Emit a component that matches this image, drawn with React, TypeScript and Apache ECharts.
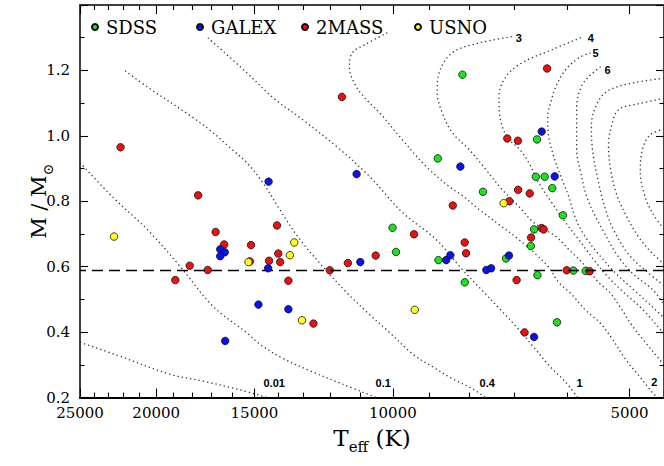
import React, { useEffect, useRef } from "react";
import * as echarts from "echarts";

// ---------- data ----------
const teffMin = 4520;
const teffMax = 25000;
const massMin = 0.2;
const massMax = 1.4;
const majorTeff = [25000, 20000, 15000, 10000, 5000];
const minorTeff = [24000, 23000, 22000, 21000, 19000, 18000, 17000, 16000, 14000, 13000, 12000, 11000, 9000, 8000, 7000, 6000];
const canonicalMass = 0.594;

const surveyNames = ["SDSS", "GALEX", "2MASS", "USNO"];

// [Teff (K), M/Msun]
const sdss: [number, number][] = [
  [8768, 0.931], [10010, 0.719], [9910, 0.645], [8750, 0.62], [8100, 0.552],
  [8157, 1.187], [6556, 0.989], [6580, 0.875], [6410, 0.875], [6270, 0.84],
  [7680, 0.829], [6077, 0.757], [6613, 0.714], [6677, 0.663], [7180, 0.625],
  [6548, 0.574], [5894, 0.588], [5686, 0.587], [6184, 0.43],
];
const galex: [number, number][] = [
  [16580, 0.653], [16360, 0.644], [16580, 0.632], [14410, 0.595], [14390, 0.86],
  [14825, 0.484], [16340, 0.373], [11120, 0.883], [8207, 0.906], [13580, 0.47],
  [11000, 0.614], [8555, 0.62], [8450, 0.635], [6467, 1.013], [6225, 0.876],
  [7118, 0.634], [7605, 0.59], [7500, 0.595], [6613, 0.385],
];
const twomass: [number, number][] = [
  [22200, 0.965], [17690, 0.818], [16805, 0.706], [16390, 0.668], [18130, 0.603],
  [17200, 0.59], [18910, 0.559], [15150, 0.666], [15200, 0.616], [14370, 0.618],
  [14040, 0.726], [11610, 1.119], [8390, 0.787], [13990, 0.64], [13910, 0.614],
  [13580, 0.557], [12620, 0.426], [12030, 0.589], [11410, 0.611], [10515, 0.634],
  [9400, 0.699], [8102, 0.674], [8070, 0.641], [6366, 1.206], [7153, 0.992],
  [6934, 0.985], [6930, 0.835], [6698, 0.824], [7110, 0.8], [6470, 0.718],
  [6430, 0.714], [6671, 0.689], [6960, 0.559], [6011, 0.589], [5620, 0.586],
  [6800, 0.399],
];
const usno: [number, number][] = [
  [22630, 0.692], [15265, 0.614], [13350, 0.674], [13520, 0.635], [13050, 0.436],
  [9378, 0.468], [7230, 0.794],
];

// cooling-age isochrones (Gyr)
const iso001: [number, number][] = [
  [25000, 0.369], [22410, 0.329], [19200, 0.271], [17440, 0.25], [15800, 0.226], [14450, 0.2],
];
const iso01: [number, number][] = [
  [25000, 0.918], [22680, 0.811], [20540, 0.714], [18650, 0.601], [16940, 0.479],
  [15340, 0.398], [14765, 0.363], [13810, 0.32], [12760, 0.282], [11590, 0.241], [10500, 0.2],
];
const iso04: [number, number][] = [
  [21900, 1.199], [20540, 1.15], [17960, 1.056], [16940, 1.01], [16120, 0.964],
  [15340, 0.918], [14640, 0.857], [13930, 0.775], [13130, 0.683], [12220, 0.595],
  [11460, 0.522], [10710, 0.454], [10110, 0.4], [9425, 0.332], [8890, 0.293],
  [8380, 0.256], [7910, 0.226], [7630, 0.2],
];
const iso1: [number, number][] = [
  [17190, 1.3], [15340, 1.193], [14210, 1.117], [13020, 1.049], [11790, 0.967],
  [10710, 0.876], [9727, 0.766], [8810, 0.683], [8165, 0.592], [7725, 0.531],
  [7307, 0.47], [6975, 0.418], [6637, 0.357], [6318, 0.296], [6030, 0.247], [5820, 0.2],
];
const iso2: [number, number][] = [
  [10165, 1.315], [10870, 1.278], [11260, 1.254], [11360, 1.211], [11130, 1.15],
  [10710, 1.101], [10400, 1.071], [9727, 0.988], [9070, 0.906], [8480, 0.845],
  [8165, 0.818], [7770, 0.775], [7330, 0.729], [6915, 0.683], [6580, 0.638],
  [6335, 0.598], [6153, 0.552], [5923, 0.515], [5687, 0.467], [5460, 0.43],
  [5256, 0.378], [5060, 0.317], [4858, 0.265], [4678, 0.216], [4610, 0.2],
];
const iso3: [number, number][] = [
  [7058, 1.303], [7770, 1.284], [8405, 1.254], [8732, 1.193], [8783, 1.132],
  [8656, 1.071], [8405, 1.01], [8000, 0.958], [7615, 0.897], [7265, 0.836],
  [6915, 0.784], [6620, 0.735], [6205, 0.692], [5975, 0.653], [5687, 0.601],
  [5475, 0.552], [5300, 0.522], [5148, 0.479], [4957, 0.418], [4775, 0.369],
  [4583, 0.317], [4488, 0.293],
];
const iso4: [number, number][] = [
  [5768, 1.3], [6280, 1.263], [6855, 1.223], [7180, 1.181], [7330, 1.12],
  [7307, 1.058], [7160, 0.997], [6895, 0.958], [6718, 0.918], [6523, 0.857],
  [6280, 0.796], [6030, 0.735], [5803, 0.683], [5555, 0.622], [5318, 0.567],
  [5105, 0.525], [4815, 0.47], [4540, 0.4], [4463, 0.378],
];
const iso5: [number, number][] = [
  [5603, 1.254], [5803, 1.238], [6030, 1.202], [6205, 1.15], [6300, 1.101],
  [6355, 1.058], [6335, 0.997], [6243, 0.937], [6115, 0.876], [5975, 0.815],
  [5868, 0.753], [5720, 0.699], [5475, 0.638], [5193, 0.577], [4915, 0.525],
  [4540, 0.448], [4463, 0.43],
];
const iso6: [number, number][] = [
  [5443, 1.211], [5635, 1.181], [5768, 1.147], [5838, 1.089], [5838, 1.028],
  [5838, 0.958], [5768, 0.888], [5670, 0.815], [5523, 0.753], [5396, 0.708],
  [5193, 0.638], [4945, 0.577], [4678, 0.531], [4540, 0.491], [4463, 0.47],
];
const iso7: [number, number][] = [
  [4463, 1.178], [5015, 1.159], [5348, 1.135], [5507, 1.095], [5590, 1.034],
  [5573, 0.958], [5475, 0.857], [5365, 0.775], [5243, 0.714], [5015, 0.638],
  [4760, 0.586], [4463, 0.531],
];
const iso8: [number, number][] = [
  [4463, 1.117], [4873, 1.098], [5163, 1.08], [5273, 1.028], [5318, 0.973],
  [5285, 0.897], [5193, 0.821], [5060, 0.76], [4873, 0.692], [4665, 0.638], [4463, 0.598],
];
const iso9: [number, number][] = [
  [4463, 1.025], [4705, 1.003], [4815, 0.958], [4845, 0.891], [4788, 0.821],
  [4665, 0.76], [4463, 0.699],
];
const isoLabels = ["0.01", "0.1", "0.4", "1", "2", "3", "4", "5", "6", "", "", ""];

// ---------- styling / layout ----------
const SERIF = '"DejaVu Serif", serif';
const SANS = '"Liberation Sans", Arial, sans-serif';
const surveyColors = ["#1fe21f", "#0a10ee", "#ee1010", "#ffff1a"];
const surveyZ = [3, 5, 4, 6];
const legendLeft = [91, 196, 301, 414];

const lg = (t: number) => Math.log10(t);
const toXY = (pts: [number, number][]) => pts.map(([t, m]) => [lg(t), m]);

const isoCurves = [iso001, iso01, iso04, iso1, iso2, iso3, iso4, iso5, iso6, iso7, iso8, iso9];
// which end carries the label, and pixel offset of the label
const isoLabelAtEnd = [true, true, true, true, true, false, false, false, false, true, true, true];
const isoLabelOffset: [number, number][] = [
  [7, -15], [7, -15], [2, -15], [2, -15], [-3, -16], [7, 1], [10, 0], [5, 0], [7, 3], [0, 0], [0, 0], [0, 0],
];

function buildOption() {
  const xBase = {
    type: "value",
    min: lg(teffMin),
    max: lg(teffMax),
    inverse: true,
    splitLine: { show: false },
    gridIndex: 0,
  };
  const axisLineStyle = { color: "#000", width: 1.5 };
  const tickStyle = { color: "#000", width: 1.1 };

  const xAxis = [
    {
      ...xBase,
      position: "bottom",
      axisLine: { show: true, onZero: false, lineStyle: { color: "#000", width: 2 } },
      axisTick: { show: true, inside: true, length: 9, customValues: majorTeff.map(lg), lineStyle: tickStyle },
      axisLabel: {
        show: true,
        customValues: majorTeff.map(lg),
        formatter: (v: number) => String(Math.round(Math.pow(10, v))),
        fontFamily: SERIF,
        fontSize: 15,
        lineHeight: 14,
        color: "#000",
        margin: 8,
      },
      name: "{t|T}{s|eff}{t| (K)}",
      nameLocation: "middle",
      nameGap: 23,
      nameMoveOverlap: false,
      nameTextStyle: {
        rich: {
          t: { fontFamily: SERIF, fontSize: 23, lineHeight: 34, color: "#000" },
          s: { fontFamily: SERIF, fontSize: 15, lineHeight: 16, verticalAlign: "bottom", color: "#000" },
        },
      },
    },
    {
      ...xBase,
      position: "bottom",
      axisLine: { show: false, onZero: false },
      axisTick: { show: true, inside: true, length: 5, customValues: minorTeff.map(lg), lineStyle: tickStyle },
      axisLabel: { show: false },
    },
    {
      ...xBase,
      position: "top",
      axisLine: { show: true, onZero: false, lineStyle: axisLineStyle },
      axisTick: { show: true, inside: true, length: 9, customValues: majorTeff.map(lg), lineStyle: tickStyle },
      axisLabel: { show: false },
    },
    {
      ...xBase,
      position: "top",
      axisLine: { show: false, onZero: false },
      axisTick: { show: true, inside: true, length: 5, customValues: minorTeff.map(lg), lineStyle: tickStyle },
      axisLabel: { show: false },
    },
  ];

  const yBase = {
    type: "value",
    min: massMin,
    max: massMax,
    interval: 0.2,
    splitLine: { show: false },
    minorSplitLine: { show: false },
    axisTick: { show: true, inside: true, length: 8, lineStyle: tickStyle },
    minorTick: { show: true, splitNumber: 2, length: 4.5, lineStyle: tickStyle },
  };
  const yAxis = [
    {
      ...yBase,
      position: "left",
      axisLine: { show: true, onZero: false, lineStyle: axisLineStyle },
      axisLabel: {
        formatter: (v: number) => v.toFixed(1),
        showMaxLabel: false,
        showMinLabel: true,
        margin: 10,
        fontFamily: SERIF,
        fontSize: 15,
        lineHeight: 12,
        color: "#000",
      },
      name: "{t|M / M}{s|⊙}",
      nameLocation: "middle",
      nameRotate: 90,
      nameGap: 25,
      nameMoveOverlap: false,
      nameTextStyle: {
        rich: {
          t: { fontFamily: SERIF, fontSize: 21, lineHeight: 32, color: "#000" },
          s: { fontFamily: SERIF, fontSize: 14, lineHeight: 15, verticalAlign: "bottom", color: "#000" },
        },
      },
    },
    {
      ...yBase,
      position: "right",
      axisLine: { show: true, onZero: false, lineStyle: axisLineStyle },
      axisLabel: { show: false },
    },
  ];

  const isoSeries = isoCurves.map((pts, i) => {
    const labelPt = isoLabelAtEnd[i] ? pts[pts.length - 1] : pts[0];
    const s: any = {
      type: "line",
      xAxisIndex: 0,
      yAxisIndex: 0,
      data: toXY(pts),
      symbol: "none",
      showSymbol: false,
      smooth: 0.35,
      silent: true,
      z: 1,
      lineStyle: { color: "#333", width: 1.3, type: [1.3, 3] },
    };
    if (isoLabels[i]) {
      s.markPoint = {
        silent: true,
        symbol: "circle",
        symbolSize: 1,
        itemStyle: { color: "rgba(0,0,0,0)" },
        label: {
          show: true,
          position: "inside",
          formatter: isoLabels[i],
          offset: isoLabelOffset[i],
          fontFamily: SANS,
          fontWeight: "bold",
          fontSize: 11,
          color: "#000",
        },
        data: [{ coord: [lg(labelPt[0]), labelPt[1]] }],
      };
    }
    if (i === 0) {
      s.markLine = {
        silent: true,
        symbol: ["none", "none"],
        label: { show: false },
        lineStyle: { color: "#000", width: 1.3, type: [11, 6] },
        data: [{ yAxis: canonicalMass }],
      };
    }
    return s;
  });

  const surveys = [sdss, galex, twomass, usno];
  const scatterSeries = surveys.map((pts, i) => ({
    type: "scatter",
    name: surveyNames[i],
    xAxisIndex: 0,
    yAxisIndex: 0,
    data: toXY(pts),
    symbol: "circle",
    symbolSize: 7.5,
    z: surveyZ[i],
    itemStyle: { color: surveyColors[i], borderColor: "#111", borderWidth: 0.8, opacity: 1 },
  }));

  const legend = surveyNames.map((n, i) => ({
    data: [n],
    left: legendLeft[i],
    top: 18,
    padding: 0,
    itemWidth: 12,
    itemHeight: 6,
    itemGap: 0,
    icon: "circle",
    selectedMode: false,
    textStyle: { fontFamily: SERIF, fontSize: 18, color: "#000" },
  }));

  return {
    animation: false,
    backgroundColor: "#fff",
    grid: { left: 80, right: -2, top: 5, bottom: 68.5, containLabel: false },
    legend,
    xAxis,
    yAxis,
    series: [...isoSeries, ...scatterSeries],
  };
}

export default function App() {
  const ref = useRef<HTMLDivElement | null>(null);
  useEffect(() => {
    const el = ref.current;
    if (!el) return;
    const chart = echarts.init(el, null, { renderer: "svg" });
    chart.setOption(buildOption() as any);
    return () => {
      chart.dispose();
    };
  }, []);
  return (
    <div
      ref={ref}
      style={{ position: "fixed", left: 0, top: 0, width: 664, height: 466, background: "#fff" }}
    />
  );
}
